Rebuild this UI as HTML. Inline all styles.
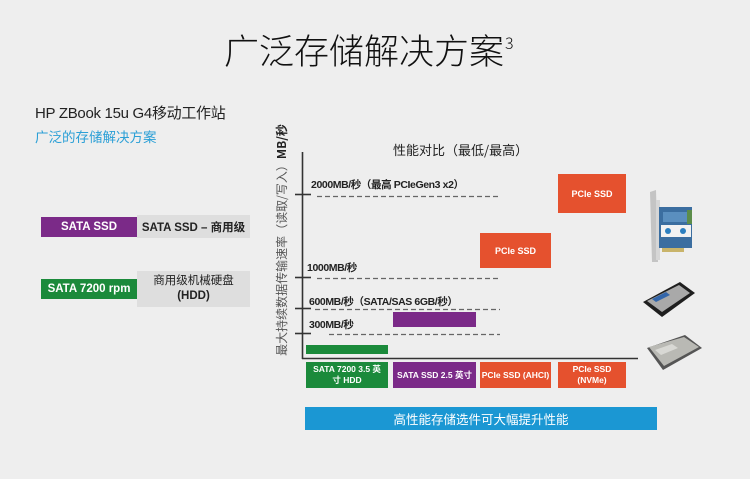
<!DOCTYPE html>
<html>
<head>
<meta charset="utf-8">
<style>
html,body{margin:0;padding:0;}
body{width:750px;height:479px;background:#eeeeee;position:relative;overflow:hidden;font-family:"Liberation Sans","Noto Sans CJK SC",sans-serif;}
.a{position:absolute;white-space:nowrap;}
.box{position:absolute;display:flex;align-items:center;justify-content:center;text-align:center;color:#fff;font-weight:bold;}
</style>
</head>
<body>
<!-- Title -->
<div class="a" style="left:224px;top:28px;font-size:35px;line-height:44px;color:#111;font-weight:300;font-family:'Noto Sans CJK SC',sans-serif;">广泛存储解决方案<span style="font-size:16px;position:relative;top:-15px;margin-left:1px;">3</span></div>

<div class="a" style="left:35px;top:104px;font-size:15px;line-height:20px;color:#222;font-family:'Liberation Sans','Noto Sans CJK SC',sans-serif;letter-spacing:-0.3px;">HP ZBook 15u G4移动工作站</div>
<div class="a" style="left:35px;top:127px;font-size:13.5px;line-height:18px;color:#2a9fd6;font-family:'Noto Sans CJK SC',sans-serif;">广泛的存储解决方案</div>

<!-- Left legend -->
<div class="box" style="left:41px;top:217px;width:96px;height:20px;background:#7b2a88;font-size:11.5px;">SATA SSD</div>
<div class="box" style="left:137px;top:215px;width:113px;height:23px;background:#dedede;color:#222;font-size:11.5px;font-family:'Liberation Sans','Noto Sans CJK SC',sans-serif;">SATA SSD – 商用级</div>

<div class="box" style="left:41px;top:279px;width:96px;height:20px;background:#1b8a3b;font-size:11.5px;font-weight:bold;">SATA 7200 rpm</div>
<div class="box" style="left:137px;top:271px;width:113px;height:36px;background:#dedede;color:#222;font-size:11.5px;line-height:15px;font-weight:normal;"><div>商用级机械硬盘<br><b>(HDD)</b></div></div>

<!-- Y axis label -->
<div class="a" style="left:282px;top:240px;transform:translate(-50%,-50%) rotate(-90deg);font-size:12px;line-height:14px;color:#555;font-family:'Noto Sans CJK SC',sans-serif;">最大持续数据传输速率（读取/写入）<b style="color:#222;">MB/秒</b></div>

<!-- chart title -->
<div class="a" style="left:393px;top:141px;font-size:13px;line-height:18px;color:#222;font-family:'Noto Sans CJK SC',sans-serif;">性能对比（最低/最高）</div>

<svg class="a" style="left:0;top:0;" width="750" height="479" viewBox="0 0 750 479">
  <g stroke="#333" stroke-width="1.6" fill="none">
    <line x1="302.5" y1="152" x2="302.5" y2="359"/>
    <line x1="302" y1="358.5" x2="638" y2="358.5"/>
    <line x1="295" y1="194.5" x2="311" y2="194.5"/>
    <line x1="295" y1="277.5" x2="311" y2="277.5"/>
    <line x1="295" y1="308.5" x2="311" y2="308.5"/>
    <line x1="295" y1="333.5" x2="311" y2="333.5"/>
  </g>
  <g stroke="#666" stroke-width="1.2" stroke-dasharray="5,3" fill="none">
    <line x1="317" y1="196.5" x2="499" y2="196.5"/>
    <line x1="317" y1="278.5" x2="499" y2="278.5"/>
    <line x1="315" y1="309.5" x2="500" y2="309.5"/>
    <line x1="329" y1="334.5" x2="500" y2="334.5"/>
  </g>
  <!-- bars -->
  <rect x="558" y="174" width="68" height="39" fill="#e5512e"/>
  <rect x="480" y="233" width="71" height="35" fill="#e5512e"/>
  <rect x="393" y="312" width="83" height="15" fill="#7b2a88"/>
  <rect x="306" y="345" width="82" height="9" fill="#1b8a3b"/>

  <!-- PCIe card -->
  <g>
    <polygon points="650,192 656,190 658,262 652,262" fill="#c4c4c4"/>
    <rect x="656" y="200" width="4" height="60" fill="#d6d6d6"/>
    <rect x="659" y="207" width="33" height="41" fill="#3b6ea0"/>
    <rect x="663" y="212" width="24" height="10" fill="#5a8fbf"/>
    <rect x="687" y="210" width="5" height="14" fill="#5c8d4a"/>
    <rect x="661" y="225" width="30" height="12" fill="#f2f2f2"/>
    <circle cx="668" cy="231" r="3" fill="#2c7fc0"/>
    <circle cx="683" cy="231" r="3" fill="#2c7fc0"/>
    <rect x="662" y="248" width="22" height="4" fill="#c9b46a"/>
  </g>
  <!-- SSD -->
  <g>
    <polygon points="643,302 680,282 695,293 662,317" fill="#1e1e1e"/>
    <polygon points="647,301 679,285 690,293 662,312" fill="#a9a9a9"/>
    <polygon points="652,299 666,292 670,295 656,302" fill="#3366aa"/>
  </g>
  <!-- HDD -->
  <g>
    <polygon points="647,348 685,335 702,348 663,370" fill="#555"/>
    <polygon points="649,347 684,337 699,347 664,366" fill="#b9b9b4"/>
    <polygon points="655,350 672,344 678,348 661,355" fill="#d8d8d4"/>
  </g>
</svg>

<!-- axis value labels -->
<div class="a" style="left:311px;top:178px;font-size:10.5px;line-height:14px;color:#222;font-weight:bold;letter-spacing:-0.4px;font-family:'Liberation Sans','Noto Sans CJK SC',sans-serif;">2000MB/秒（最高 PCIeGen3 x2）</div>
<div class="a" style="left:307px;top:261px;font-size:10.5px;line-height:14px;color:#222;font-weight:bold;letter-spacing:-0.4px;">1000MB/秒</div>
<div class="a" style="left:309px;top:295px;font-size:10.5px;line-height:14px;color:#222;font-weight:bold;letter-spacing:-0.4px;">600MB/秒（SATA/SAS 6GB/秒）</div>
<div class="a" style="left:309px;top:318px;font-size:10.5px;line-height:14px;color:#222;font-weight:bold;letter-spacing:-0.4px;">300MB/秒</div>

<!-- bar labels -->
<div class="box" style="left:558px;top:174px;width:68px;height:39px;font-size:9px;font-weight:bold;">PCIe SSD</div>
<div class="box" style="left:480px;top:233px;width:71px;height:35px;font-size:9px;font-weight:bold;">PCIe SSD</div>

<!-- categories -->
<div class="box" style="left:306px;top:362px;width:82px;height:26px;background:#1b8a3b;font-size:8.5px;line-height:11px;"><div>SATA 7200 3.5 英<br>寸 HDD</div></div>
<div class="box" style="left:393px;top:362px;width:83px;height:26px;background:#7b2a88;font-size:8.5px;line-height:11px;">SATA SSD 2.5 英寸</div>
<div class="box" style="left:480px;top:362px;width:71px;height:26px;background:#e5512e;font-size:8.5px;line-height:11px;">PCIe SSD (AHCI)</div>
<div class="box" style="left:558px;top:362px;width:68px;height:26px;background:#e5512e;font-size:8.5px;line-height:11px;"><div>PCIe SSD<br>(NVMe)</div></div>

<!-- banner -->
<div class="box" style="left:305px;top:407px;width:352px;height:23px;background:#1b97d3;font-size:12.5px;font-weight:normal;font-family:'Noto Sans CJK SC',sans-serif;">高性能存储选件可大幅提升性能</div>
</body>
</html>
